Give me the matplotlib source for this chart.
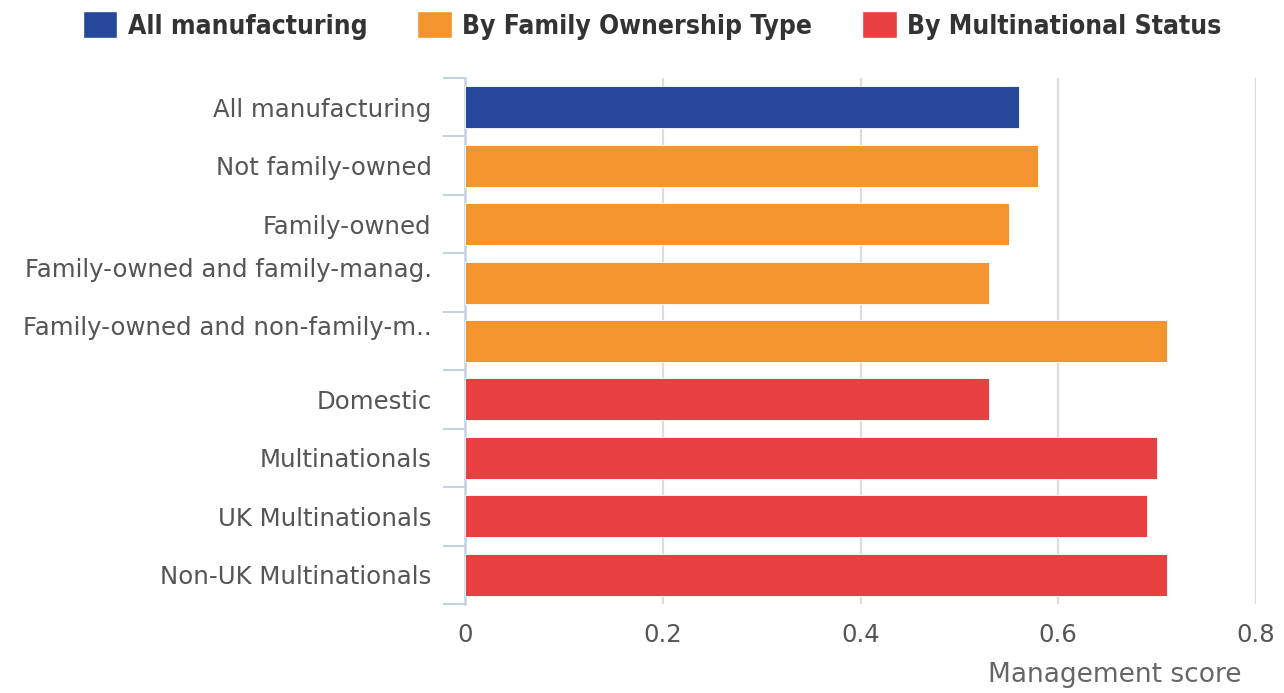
import matplotlib
matplotlib.use("Agg")
import matplotlib.pyplot as plt
import matplotlib.transforms as mtransforms
from matplotlib.patches import Patch
import numpy as np

plt.rcParams['font.family'] = ['DejaVu Sans']

# management scores by firm group
categories = ['All manufacturing', 'Not family-owned', 'Family-owned',
              'Family-owned and family-manag.', 'Family-owned and non-family-m..',
              'Domestic', 'Multinationals', 'UK Multinationals',
              'Non-UK Multinationals']
scores = [0.56, 0.58, 0.55, 0.53, 0.71, 0.53, 0.70, 0.69, 0.71]
groups = ['All manufacturing', 'By Family Ownership Type', 'By Family Ownership Type',
          'By Family Ownership Type', 'By Family Ownership Type',
          'By Multinational Status', 'By Multinational Status',
          'By Multinational Status', 'By Multinational Status']
group_names = ['All manufacturing', 'By Family Ownership Type', 'By Multinational Status']
group_colors = {'All manufacturing': '#26479a',
                'By Family Ownership Type': '#f4942f',
                'By Multinational Status': '#e84040'}
xticks = [0, 0.2, 0.4, 0.6, 0.8]
xtick_labels = ['0', '0.2', '0.4', '0.6', '0.8']

fig = plt.figure(figsize=(12.84, 6.93), dpi=100)
ax = fig.add_axes([465 / 1284, 1 - 604 / 693, (1256 - 465) / 1284, (604 - 78) / 693])

y = np.arange(len(categories))
ax.barh(y, scores, height=0.72, color=[group_colors[g] for g in groups],
        edgecolor='white', linewidth=0.6, zorder=3)

ax.set_ylim(len(categories) - 0.5, -0.5)
ax.set_xlim(0, 0.8)

ax.set_xticks(xticks)
ax.set_xticklabels(xtick_labels, fontsize=17.5, color='#555555')
ax.tick_params(axis='x', length=0, pad=14)
ax.grid(axis='x', color='#dcdcdc', linewidth=1.6, zorder=0)

ax.set_yticks(y)
ax.set_yticklabels(categories, fontsize=17.6, color='#555555')
ax.set_yticks(np.arange(len(categories) + 1) - 0.5, minor=True)
ax.tick_params(axis='y', which='major', length=0, pad=24)
ax.tick_params(axis='y', which='minor', length=16, width=1.5, color='#c3d2e3')

for s in ['top', 'right', 'bottom']:
    ax.spines[s].set_visible(False)
ax.spines['left'].set_color('#c3d2e3')
ax.spines['left'].set_linewidth(1.8)

# the two cut-off labels sit a bit higher than the rest
shift = mtransforms.ScaledTranslation(0, 11 / 72, fig.dpi_scale_trans)
for lab in ax.get_yticklabels():
    if lab.get_text().startswith('Family-owned and'):
        lab.set_transform(lab.get_transform() + shift)

ax.set_xlabel('Management score', fontsize=19, color='#666666', loc='right')
ax.xaxis.set_label_coords((1242 - 465) / (1256 - 465), -(662 - 604) / (604 - 78))

handles = [Patch(facecolor=group_colors[g], edgecolor='white', label=g) for g in group_names]
leg = fig.legend(handles=handles, loc='upper center', bbox_to_anchor=(0.508, 1.018),
                 ncol=3, frameon=False, handlelength=1.3, handleheight=1.2,
                 handletextpad=0.4, columnspacing=1.9,
                 prop={'family': 'DejaVu Sans', 'size': 19, 'weight': 'bold',
                       'stretch': 'condensed'})
for t in leg.get_texts():
    t.set_color('#333333')

fig.savefig('out.png', dpi=100)
